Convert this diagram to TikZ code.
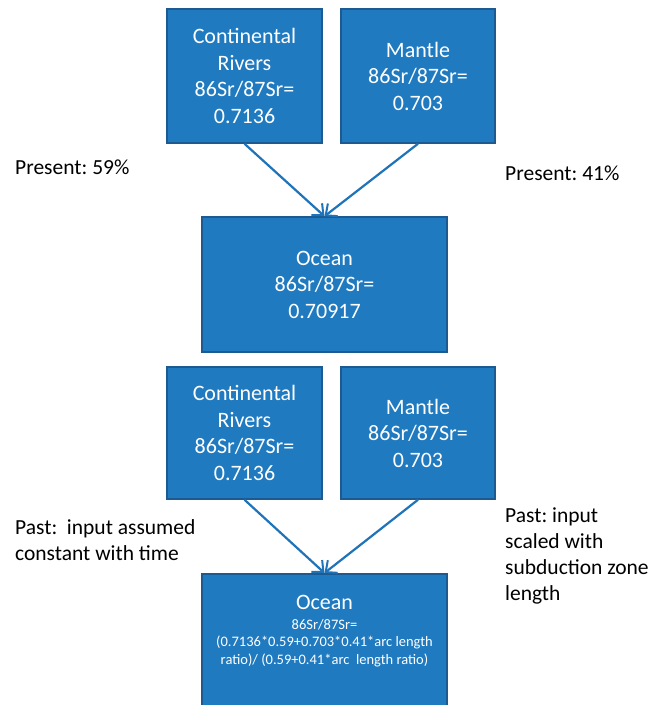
\documentclass[tikz,border=0pt]{standalone}
\usepackage{fontspec}
\setmainfont{Carlito}
\usetikzlibrary{arrows.meta}
\definecolor{boxfill}{RGB}{31,122,192}
\definecolor{boxline}{RGB}{28,90,145}
\definecolor{arrcol}{RGB}{30,115,185}
\tikzset{
  bluebox/.style={draw=boxline, line width=1.5pt, fill=boxfill, text=white,
    align=center, inner sep=0pt, font=\fontsize{22}{26.5}\selectfont},
  smalltxt/.style={text=white, align=center, inner sep=0pt, font=\fontsize{14.5}{17.5}\selectfont},
  sidetxt/.style={text=black, align=left, inner sep=0pt, anchor=west, font=\fontsize{21.5}{26}\selectfont},
  arr/.style={draw=arrcol, line width=2.2pt, -{Straight Barb[length=9pt,width=16pt,line width=2pt]}}
}
\frenchspacing
\begin{document}
\begin{tikzpicture}[x=1pt,y=-1pt]
\useasboundingbox (0,0) rectangle (655,705);
\fill[white] (0,0) rectangle (655,705);
% top row
\node[bluebox, minimum width=155pt, minimum height=134pt] (cr1) at (244.5,76) {Continental\\Rivers\\86Sr/87Sr=\\0.7136};
\node[bluebox, minimum width=154pt, minimum height=134pt] (m1) at (418,76) {Mantle\\86Sr/87Sr=\\0.703};
\node[bluebox, minimum width=245pt, minimum height=135pt] (oc1) at (324.5,284.5) {Ocean\\86Sr/87Sr=\\0.70917};
\draw[arr] (cr1.south) -- (oc1.north);
\draw[arr] (m1.south) -- (oc1.north);
\node[sidetxt] (p59) at (15,167) {Present: 59\%};
\node[sidetxt] (p41) at (505,173) {Present: 41\%};
% bottom row
\node[bluebox, minimum width=155pt, minimum height=132pt] (cr2) at (244.5,433) {Continental\\Rivers\\86Sr/87Sr=\\0.7136};
\node[bluebox, minimum width=154pt, minimum height=132pt] (m2) at (418,433) {Mantle\\86Sr/87Sr=\\0.703};
\node[bluebox, minimum width=245pt, minimum height=140pt, anchor=north] (oc2) at (324.5,573) {};
\node[text=white, inner sep=0pt, font=\fontsize{22}{26.5}\selectfont] (oc2t) at (324.5,602) {Ocean};
\node[smalltxt] (oc2f) at (324.5,643) {86Sr/87Sr=\\(0.7136*0.59+0.703*0.41*arc length\\ratio)/ (0.59+0.41*arc\ \ length ratio)};
\draw[arr] (cr2.south) -- (oc2.north);
\draw[arr] (m2.south) -- (oc2.north);
\node[sidetxt] (pl) at (15,540) {Past:\ \ input assumed\\constant with time};
\node[sidetxt] (pr) at (505,556) {Past: input\\scaled with\\subduction zone\\length};
\end{tikzpicture}
\end{document}
